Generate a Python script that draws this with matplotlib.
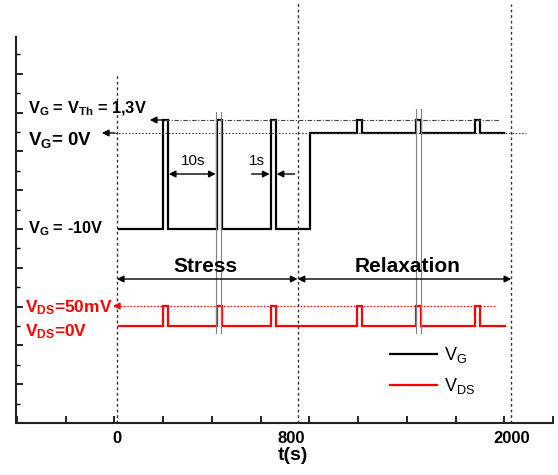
import numpy as np
import matplotlib.pyplot as plt

plt.rcParams['font.family'] = 'Liberation Sans'
plt.rcParams['mathtext.fontset'] = 'custom'
plt.rcParams['mathtext.rm'] = 'Liberation Sans'
plt.rcParams['mathtext.bf'] = 'Liberation Sans:bold'
plt.rcParams['mathtext.it'] = 'Liberation Sans:italic'

# schematic time axis (not to scale): positions of the labelled instants
t_labels = ['0', '800', '2000']
t_label_pos = [0, 175, 395]
t_marks = [0, 181, 395]

# pulse train, in schematic time units
stress_pulses = [46, 100, 154]
relax_pulses = [241, 300, 359]
pulse_w = 5
t_on, t_switch, t_off = 2, 193, 388

# schematic levels (arbitrary units)
vg_th, vg_zero, vg_neg = 303, 290, 194
vds_on, vds_off = 117, 97


def square(t0, t1, starts, w, low, high):
    xs, ys = [t0], [low]
    for s in starts:
        xs += [s, s, s + w, s + w]
        ys += [low, high, high, low]
    xs.append(t1)
    ys.append(low)
    return xs, ys


x1, y1 = square(t_on, t_switch, stress_pulses, pulse_w, vg_neg, vg_th)
x2, y2 = square(t_switch, t_off, relax_pulses, pulse_w, vg_zero, vg_th)
vg_x, vg_y = np.array(x1 + x2), np.array(y1 + y2)
vds_x, vds_y = square(t_on, t_off + 1, stress_pulses + relax_pulses, pulse_w, vds_off, vds_on)

fig = plt.figure(figsize=(5.58, 4.75), dpi=100)
ax = fig.add_axes([16 / 558, 52 / 475, 537 / 558, 386 / 475])
ax.set_xlim(-101, 436)
ax.set_ylim(0, 386)

ax.plot(vg_x, vg_y, color='black', lw=1.6, label=r'V$_{\mathregular{G}}$', solid_joinstyle='miter')
ax.plot(vds_x, vds_y, color='red', lw=1.6, label=r'V$_{\mathregular{DS}}$', solid_joinstyle='miter')

# dashed time markers
tops = [349, 420, 419]
for xm, top in zip(t_marks, tops):
    ax.plot([xm, xm], [0, top], color='#333333', lw=1, ls=(0, (2, 2)), clip_on=False)

# reference level lines
ax.plot([48, 383], [vg_th, vg_th], color='#444444', lw=0.8, ls=(0, (4, 1.5, 1, 1.5)))
ax.plot([-2, 410], [vg_zero, vg_zero], color='#444444', lw=0.8, ls=(0, (1.5, 1.5)))
ax.plot([3, 380], [vds_on, vds_on], color='red', lw=0.8, ls=(0, (1.5, 1.5)))

# gray double lines around sampled pulses
for xs, top in [(stress_pulses[1], 311), (relax_pulses[1], 314)]:
    for dx in (-0.5, 4.5):
        ax.plot([xs + dx, xs + dx], [90, top], color='gray', lw=0.8)

arr = dict(arrowstyle='-|>', color='black', lw=1, mutation_scale=10, shrinkA=0, shrinkB=0)
darr = dict(arrowstyle='<|-|>', color='black', lw=1, mutation_scale=10, shrinkA=0, shrinkB=0)

ax.annotate('', xy=(33, vg_th), xytext=(48, vg_th), arrowprops=arr)
ax.annotate('', xy=(-15, vg_zero), xytext=(-2, vg_zero), arrowprops=arr)
ax.annotate('', xy=(-4, vds_on), xytext=(3, vds_on), arrowprops=dict(arr, color='red'))

# stress / relaxation spans
ax.annotate('', xy=(0, 144), xytext=(181, 144), arrowprops=darr)
ax.annotate('', xy=(181, 144), xytext=(395, 144), arrowprops=darr)
ax.text(89, 157, 'Stress', ha='center', va='center', fontsize=15, fontweight='bold')
ax.text(291, 157, 'Relaxation', ha='center', va='center', fontsize=15, fontweight='bold')

# pulse period / width
ax.annotate('', xy=(52, 249), xytext=(99, 249), arrowprops=darr)
ax.text(76, 262, '10s', ha='center', va='center', fontsize=11)
ax.annotate('', xy=(153, 249), xytext=(135, 249), arrowprops=arr)
ax.annotate('', xy=(160, 249), xytext=(178, 249), arrowprops=arr)
ax.text(140, 262, '1s', ha='center', va='center', fontsize=11)

# level labels
ax.text(-89, 310, r'V$_{\mathregular{G}}$ = V$_{\mathregular{Th}}$ = 1,3V', fontsize=11.8, fontweight='bold', va='baseline')
ax.text(-89, 278, r'V$_{\mathregular{G}}$= 0V', fontsize=13.5, fontweight='bold', va='baseline')
ax.text(-89, 190, r'V$_{\mathregular{G}}$ = -10V', fontsize=11.8, fontweight='bold', va='baseline')
ax.text(-92, 111, r'V$_{\mathregular{DS}}$=50mV', fontsize=12.5, fontweight='bold', va='baseline', color='red')
ax.text(-92, 87, r'V$_{\mathregular{DS}}$=0V', fontsize=12.5, fontweight='bold', va='baseline', color='red')

# axes styling
for s in ['top', 'right']:
    ax.spines[s].set_visible(False)
for s in ['left', 'bottom']:
    ax.spines[s].set_linewidth(1.5)
    ax.spines[s].set_color('#222222')

ax.set_xticks(t_label_pos, t_labels)
ax.set_xticks(np.arange(-100, 440, 48.8), minor=True)
ax.tick_params(axis='x', which='major', length=0, pad=6, labelsize=12)
ax.tick_params(axis='x', which='minor', direction='in', length=5, width=1.2)
for lbl in ax.get_xticklabels():
    lbl.set_fontweight('bold')
ax.set_yticks(np.arange(0, 387, 38.8))
ax.set_yticks(np.arange(19.4, 387, 38.8), minor=True)
ax.tick_params(axis='y', which='major', direction='in', length=5, width=1.2, labelleft=False)
ax.tick_params(axis='y', which='minor', direction='in', length=3, width=1.0)
ax.set_xlabel('t(s)', fontsize=14, fontweight='bold', labelpad=0)
ax.xaxis.set_label_coords((293 - 16) / 537, -(447 - 423) / 386)

ax.legend(loc='upper left', bbox_to_anchor=((390 - 16) / 537, (423 - 345) / 386),
          frameon=False, fontsize=13, handlelength=2.6, handletextpad=0.4,
          labelspacing=0.6, borderpad=0, borderaxespad=0)

fig.savefig('out.png', dpi=100)
